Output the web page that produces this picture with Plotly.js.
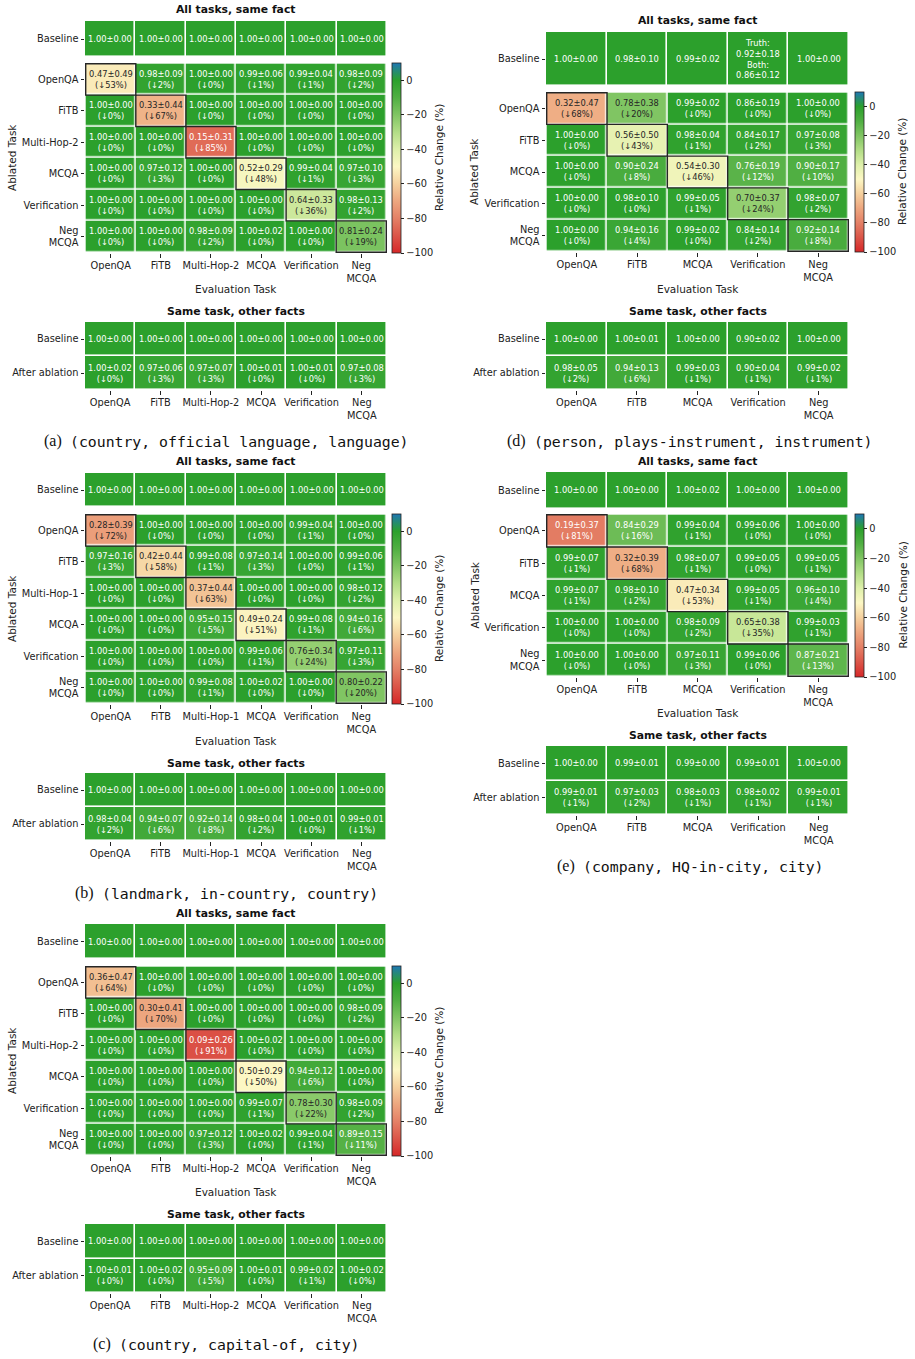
<!DOCTYPE html>
<html><head><meta charset="utf-8">
<script src="https://cdn.plot.ly/plotly-3.0.1.min.js"></script>
<style>html,body{margin:0;padding:0;background:#fff}</style>
</head><body><div id="chart" style="width:915px;height:1359px"></div>
<script>
// ================= DATA =================
// (a) (country, official language, language)
const aEval = ["OpenQA","FiTB","Multi-Hop-2","MCQA","Verification","Neg<br>MCQA"];
const aAblated = ["OpenQA","FiTB","Multi-Hop-2","MCQA","Verification","Neg<br>MCQA"];
const aBaseMean = [1.00,1.00,1.00,1.00,1.00,1.00];
const aBaseStd  = [0.00,0.00,0.00,0.00,0.00,0.00];
const aMean = [[0.47,0.98,1.00,0.99,0.99,0.98],[1.00,0.33,1.00,1.00,1.00,1.00],[1.00,1.00,0.15,1.00,1.00,1.00],[1.00,0.97,1.00,0.52,0.99,0.97],[1.00,1.00,1.00,1.00,0.64,0.98],[1.00,1.00,0.98,1.00,1.00,0.81]];
const aStd  = [[0.49,0.09,0.00,0.06,0.04,0.09],[0.00,0.44,0.00,0.00,0.00,0.00],[0.00,0.00,0.31,0.00,0.00,0.00],[0.00,0.12,0.00,0.29,0.04,0.10],[0.00,0.00,0.00,0.00,0.33,0.13],[0.00,0.00,0.09,0.02,0.00,0.24]];
const aDrop = [[53,2,0,1,1,2],[0,67,0,0,0,0],[0,0,85,0,0,0],[0,3,0,48,1,3],[0,0,0,0,36,2],[0,0,2,0,0,19]];
const aOtherBaseMean = [1.00,1.00,1.00,1.00,1.00,1.00];
const aOtherBaseStd  = [0.00,0.00,0.00,0.00,0.00,0.00];
const aOtherMean = [1.00,0.97,0.97,1.00,1.00,0.97];
const aOtherStd  = [0.02,0.06,0.07,0.01,0.01,0.08];
const aOtherDrop = [0,3,3,0,0,3];

// (d) (person, plays-instrument, instrument)
const dEval = ["OpenQA","FiTB","MCQA","Verification","Neg<br>MCQA"];
const dAblated = ["OpenQA","FiTB","MCQA","Verification","Neg<br>MCQA"];
const dBaseMean = [1.00,0.98,0.99,0.92,1.00];
const dBaseStd  = [0.00,0.10,0.02,0.18,0.00];
const dBaseBothMean = [null,null,null,0.86,null];
const dBaseBothStd  = [null,null,null,0.12,null];
const dMean = [[0.32,0.78,0.99,0.86,1.00],[1.00,0.56,0.98,0.84,0.97],[1.00,0.90,0.54,0.76,0.90],[1.00,0.98,0.99,0.70,0.98],[1.00,0.94,0.99,0.84,0.92]];
const dStd  = [[0.47,0.38,0.02,0.19,0.00],[0.00,0.50,0.04,0.17,0.08],[0.00,0.24,0.30,0.19,0.17],[0.00,0.10,0.05,0.37,0.07],[0.00,0.16,0.02,0.14,0.14]];
const dDrop = [[68,20,0,0,0],[0,43,1,2,3],[0,8,46,12,10],[0,0,1,24,2],[0,4,0,2,8]];
const dOtherBaseMean = [1.00,1.00,1.00,0.90,1.00];
const dOtherBaseStd  = [0.00,0.01,0.00,0.02,0.00];
const dOtherMean = [0.98,0.94,0.99,0.90,0.99];
const dOtherStd  = [0.05,0.13,0.03,0.04,0.02];
const dOtherDrop = [2,6,1,1,1];

// (b) (landmark, in-country, country)
const bEval = ["OpenQA","FiTB","Multi-Hop-1","MCQA","Verification","Neg<br>MCQA"];
const bAblated = ["OpenQA","FiTB","Multi-Hop-1","MCQA","Verification","Neg<br>MCQA"];
const bBaseMean = [1.00,1.00,1.00,1.00,1.00,1.00];
const bBaseStd  = [0.00,0.00,0.00,0.00,0.00,0.00];
const bMean = [[0.28,1.00,1.00,1.00,0.99,1.00],[0.97,0.42,0.99,0.97,1.00,0.99],[1.00,1.00,0.37,1.00,1.00,0.98],[1.00,1.00,0.95,0.49,0.99,0.94],[1.00,1.00,1.00,0.99,0.76,0.97],[1.00,1.00,0.99,1.00,1.00,0.80]];
const bStd  = [[0.39,0.00,0.00,0.00,0.04,0.00],[0.16,0.44,0.08,0.14,0.00,0.06],[0.00,0.00,0.44,0.00,0.00,0.12],[0.00,0.00,0.15,0.24,0.08,0.16],[0.00,0.00,0.00,0.06,0.34,0.11],[0.00,0.00,0.08,0.02,0.00,0.22]];
const bDrop = [[72,0,0,0,1,0],[3,58,1,3,0,1],[0,0,63,0,0,2],[0,0,5,51,1,6],[0,0,0,1,24,3],[0,0,1,0,0,20]];
const bOtherBaseMean = [1.00,1.00,1.00,1.00,1.00,1.00];
const bOtherBaseStd  = [0.00,0.00,0.00,0.00,0.00,0.00];
const bOtherMean = [0.98,0.94,0.92,0.98,1.00,0.99];
const bOtherStd  = [0.04,0.07,0.14,0.04,0.01,0.01];
const bOtherDrop = [2,6,8,2,0,1];

// (e) (company, HQ-in-city, city)
const eEval = ["OpenQA","FiTB","MCQA","Verification","Neg<br>MCQA"];
const eAblated = ["OpenQA","FiTB","MCQA","Verification","Neg<br>MCQA"];
const eBaseMean = [1.00,1.00,1.00,1.00,1.00];
const eBaseStd  = [0.00,0.00,0.02,0.00,0.00];
const eMean = [[0.19,0.84,0.99,0.99,1.00],[0.99,0.32,0.98,0.99,0.99],[0.99,0.98,0.47,0.99,0.96],[1.00,1.00,0.98,0.65,0.99],[1.00,1.00,0.97,0.99,0.87]];
const eStd  = [[0.37,0.29,0.04,0.06,0.00],[0.07,0.39,0.07,0.05,0.05],[0.07,0.10,0.34,0.05,0.10],[0.00,0.00,0.09,0.38,0.03],[0.00,0.00,0.11,0.06,0.21]];
const eDrop = [[81,16,1,0,0],[1,68,1,0,1],[1,2,53,1,4],[0,0,2,35,1],[0,0,3,0,13]];
const eOtherBaseMean = [1.00,0.99,0.99,0.99,1.00];
const eOtherBaseStd  = [0.00,0.01,0.00,0.01,0.00];
const eOtherMean = [0.99,0.97,0.98,0.98,0.99];
const eOtherStd  = [0.01,0.03,0.03,0.02,0.01];
const eOtherDrop = [1,2,1,1,1];

// (c) (country, capital-of, city)
const cEval = ["OpenQA","FiTB","Multi-Hop-2","MCQA","Verification","Neg<br>MCQA"];
const cAblated = ["OpenQA","FiTB","Multi-Hop-2","MCQA","Verification","Neg<br>MCQA"];
const cBaseMean = [1.00,1.00,1.00,1.00,1.00,1.00];
const cBaseStd  = [0.00,0.00,0.00,0.00,0.00,0.00];
const cMean = [[0.36,1.00,1.00,1.00,1.00,1.00],[1.00,0.30,1.00,1.00,1.00,0.98],[1.00,1.00,0.09,1.00,1.00,1.00],[1.00,1.00,1.00,0.50,0.94,1.00],[1.00,1.00,1.00,0.99,0.78,0.98],[1.00,1.00,0.97,1.00,0.99,0.89]];
const cStd  = [[0.47,0.00,0.00,0.00,0.00,0.00],[0.00,0.41,0.00,0.00,0.00,0.09],[0.00,0.00,0.26,0.02,0.00,0.00],[0.00,0.00,0.00,0.29,0.12,0.00],[0.00,0.00,0.00,0.07,0.30,0.09],[0.00,0.00,0.12,0.02,0.04,0.15]];
const cDrop = [[64,0,0,0,0,0],[0,70,0,0,0,2],[0,0,91,0,0,0],[0,0,0,50,6,0],[0,0,0,1,22,2],[0,0,3,0,1,11]];
const cOtherBaseMean = [1.00,1.00,1.00,1.00,1.00,1.00];
const cOtherBaseStd  = [0.00,0.00,0.00,0.00,0.00,0.00];
const cOtherMean = [1.00,1.00,0.95,1.00,0.99,1.00];
const cOtherStd  = [0.01,0.02,0.09,0.01,0.02,0.02];
const cOtherDrop = [0,0,5,0,1,0];

const otherRows = ["Baseline","After ablation"];
const captionLetters = ["(a)","(d)","(b)","(e)","(c)"];
const captionTexts = ["(country, official language, language)","(person, plays-instrument, instrument)","(landmark, in-country, country)","(company, HQ-in-city, city)","(country, capital-of, city)"];
const colorbarTicks = [-100,-80,-60,-40,-20,0];

// ================= STYLE / LAYOUT =================
const W = 915, H = 1359;
const FONT = '"DejaVu Sans", Verdana, sans-serif';
const TXT = '#222';
const px = x => x / W, py = y => 1 - y / H;
const colorscale = [
  [0.0000,'rgb(214,39,40)'],
  [0.0909,'rgb(219,85,72)'],
  [0.1818,'rgb(228,128,102)'],
  [0.2727,'rgb(237,166,127)'],
  [0.3636,'rgb(245,208,158)'],
  [0.4545,'rgb(252,247,196)'],
  [0.5455,'rgb(222,240,170)'],
  [0.6364,'rgb(178,221,134)'],
  [0.7273,'rgb(128,197,99)'],
  [0.8182,'rgb(80,175,66)'],
  [0.9091,'rgb(44,160,44)'],
  [0.9545,'rgb(38,140,112)'],
  [1.0000,'rgb(31,119,180)']
];

const panelData = [
  {ev:aEval, ab:aAblated, bm:aBaseMean, bs:aBaseStd, m:aMean, s:aStd, d:aDrop, obm:aOtherBaseMean, obs:aOtherBaseStd, om:aOtherMean, os:aOtherStd, od:aOtherDrop},
  {ev:dEval, ab:dAblated, bm:dBaseMean, bs:dBaseStd, bbm:dBaseBothMean, bbs:dBaseBothStd, m:dMean, s:dStd, d:dDrop, obm:dOtherBaseMean, obs:dOtherBaseStd, om:dOtherMean, os:dOtherStd, od:dOtherDrop},
  {ev:bEval, ab:bAblated, bm:bBaseMean, bs:bBaseStd, m:bMean, s:bStd, d:bDrop, obm:bOtherBaseMean, obs:bOtherBaseStd, om:bOtherMean, os:bOtherStd, od:bOtherDrop},
  {ev:eEval, ab:eAblated, bm:eBaseMean, bs:eBaseStd, m:eMean, s:eStd, d:eDrop, obm:eOtherBaseMean, obs:eOtherBaseStd, om:eOtherMean, os:eOtherStd, od:eOtherDrop},
  {ev:cEval, ab:cAblated, bm:cBaseMean, bs:cBaseStd, m:cMean, s:cStd, d:cDrop, obm:cOtherBaseMean, obs:cOtherBaseStd, om:cOtherMean, os:cOtherStd, od:cOtherDrop}
];

// pixel boxes (layout only)
const boxes = [
  {x0:85,  x1:387, base:[21,57],  main:[63,253],  other:[322,390],  t1:10,  xt:289, t2:311,  cap:441, capX:68,  cbx:392, cbt:439, ylab:12},
  {x0:546, x1:849, base:[32,86],  main:[92,252],  other:[322,390],  t1:20,  xt:289, t2:311,  cap:441, capX:532, cbx:855, cbt:902, ylab:474},
  {x0:85,  x1:387, base:[473,507],main:[514,704], other:[773,841],  t1:462, xt:741, t2:763,  cap:893, capX:100, cbx:392, cbt:439, ylab:12},
  {x0:546, x1:849, base:[472,509],main:[514,677], other:[746,815],  t1:462, xt:713, t2:735,  cap:866, capX:581, cbx:855, cbt:902, ylab:474},
  {x0:85,  x1:387, base:[924,959],main:[966,1156],other:[1224,1293],t1:913, xt:1192,t2:1214, cap:1344,capX:117, cbx:392, cbt:439, ylab:12}
];

const data = [], annotations = [], shapes = [];
const layout = {
  width: W, height: H, margin: {l:0, r:0, t:0, b:0},
  paper_bgcolor: '#fff', plot_bgcolor: '#fff',
  font: {family: FONT, size: 9.8, color: TXT},
  showlegend: false
};

let axN = 0;
function fmt(m, s) { return m.toFixed(2) + '±' + s.toFixed(2); }
function textColor(drop) { return (drop >= 17 && drop <= 78) ? '#262626' : '#ffffff'; }

function addHeat(box, yr, xcats, ycats, z, showX, cbar) {
  axN++;
  const id = axN === 1 ? '' : String(axN);
  layout['xaxis' + id] = {
    domain: [px(box.x0), px(box.x1)], anchor: 'y' + id, type: 'category',
    categoryorder: 'array', categoryarray: xcats,
    showgrid: false, zeroline: false, showline: false,
    showticklabels: showX, ticks: showX ? 'outside' : '', ticklen: 3.5, tickwidth: 1, tickcolor: TXT,
    tickfont: {family: FONT, size: 9.8, color: TXT}, fixedrange: true
  };
  layout['yaxis' + id] = {
    domain: [py(yr[1]), py(yr[0])], anchor: 'x' + id, type: 'category',
    categoryorder: 'array', categoryarray: ycats, autorange: 'reversed',
    showgrid: false, zeroline: false, showline: false,
    ticks: 'outside', ticklen: 3.5, tickwidth: 1, tickcolor: TXT,
    tickfont: {family: FONT, size: 9.8, color: TXT}, fixedrange: true
  };
  const tr = {
    type: 'heatmap', x: xcats, y: ycats, z: z,
    xaxis: 'x' + id, yaxis: 'y' + id,
    colorscale: colorscale, zmin: -100, zmax: 10,
    xgap: 1.6, ygap: 1.6, hoverinfo: 'skip', showscale: !!cbar
  };
  if (cbar) tr.colorbar = cbar;
  data.push(tr);
  return {x: 'x' + id, y: 'y' + id};
}

function cellText(ax, xc, yc, txt, drop) {
  annotations.push({
    xref: ax.x, yref: ax.y, x: xc, y: yc, text: txt, showarrow: false,
    font: {family: FONT, size: 8.3, color: textColor(drop)}
  });
}
function paperText(x, y, txt, font, extra) {
  annotations.push(Object.assign({
    xref: 'paper', yref: 'paper', x: px(x), y: py(y), text: txt, showarrow: false,
    xanchor: 'center', yanchor: 'middle', font: font
  }, extra || {}));
}

panelData.forEach((P, k) => {
  const B = boxes[k];
  const cx = (B.x0 + B.x1) / 2;
  paperText(cx, B.t1, '<b>All tasks, same fact</b>', {family: FONT, size: 10.8, color: '#111'});
  const axB = addHeat(B, B.base, P.ev, ['Baseline'], [P.ev.map(() => 0)], false, null);
  P.ev.forEach((e, i) => {
    let t = fmt(P.bm[i], P.bs[i]);
    if (P.bbm && P.bbm[i] != null) t = 'Truth:<br>' + t + '<br>Both:<br>' + fmt(P.bbm[i], P.bbs[i]);
    cellText(axB, e, 'Baseline', t, 0);
  });
  const z = P.d.map(r => r.map(v => -v));
  const cb = {
    x: px(B.cbx), xanchor: 'left', xpad: 0, ypad: 0,
    y: py(B.main[0]), yanchor: 'top', len: (B.main[1] - B.main[0]) / H, lenmode: 'fraction',
    thickness: 9, thicknessmode: 'pixels', outlinewidth: 0.8, outlinecolor: TXT,
    tickmode: 'array', tickvals: colorbarTicks, ticks: 'outside', ticklen: 3.5, tickcolor: TXT,
    tickfont: {family: FONT, size: 9.8, color: TXT}
  };
  const axM = addHeat(B, B.main, P.ev, P.ab, z, true, cb);
  P.ab.forEach((a, j) => {
    P.ev.forEach((e, i) => {
      cellText(axM, e, a, fmt(P.m[j][i], P.s[j][i]) + '<br>(↓' + P.d[j][i] + '%)', P.d[j][i]);
    });
    const di = P.ev.indexOf(a);
    if (di >= 0) shapes.push({type: 'rect', xref: axM.x, yref: axM.y, x0: di - 0.5, x1: di + 0.5, y0: j - 0.5, y1: j + 0.5,
      line: {color: '#262626', width: 1.4}, fillcolor: 'rgba(0,0,0,0)'});
  });
  paperText(B.cbt, (B.main[0] + B.main[1]) / 2, 'Relative Change (%)', {family: FONT, size: 10.5, color: TXT}, {textangle: -90});
  paperText(cx, B.xt, 'Evaluation Task', {family: FONT, size: 10.5, color: TXT});
  paperText(B.ylab, (B.main[0] + B.main[1]) / 2, 'Ablated Task', {family: FONT, size: 10.5, color: TXT}, {textangle: -90});
  paperText(cx, B.t2, '<b>Same task, other facts</b>', {family: FONT, size: 10.8, color: '#111'});
  const zO = [P.ev.map(() => 0), P.od.map(v => -v)];
  const axO = addHeat(B, B.other, P.ev, otherRows, zO, true, null);
  P.ev.forEach((e, i) => {
    cellText(axO, e, otherRows[0], fmt(P.obm[i], P.obs[i]), 0);
    cellText(axO, e, otherRows[1], fmt(P.om[i], P.os[i]) + '<br>(↓' + P.od[i] + '%)', P.od[i]);
  });
  paperText(B.capX - 4, B.cap, captionLetters[k], {family: '"Liberation Serif", "Times New Roman", serif', size: 16, color: '#111'}, {xanchor: 'right'});
  paperText(B.capX, B.cap, captionTexts[k], {family: '"DejaVu Sans Mono", monospace', size: 14.8, color: '#111'}, {xanchor: 'left'});
});

layout.annotations = annotations;
layout.shapes = shapes;
Plotly.newPlot('chart', data, layout, {staticPlot: true, displayModeBar: false});
</script>
</body></html>
